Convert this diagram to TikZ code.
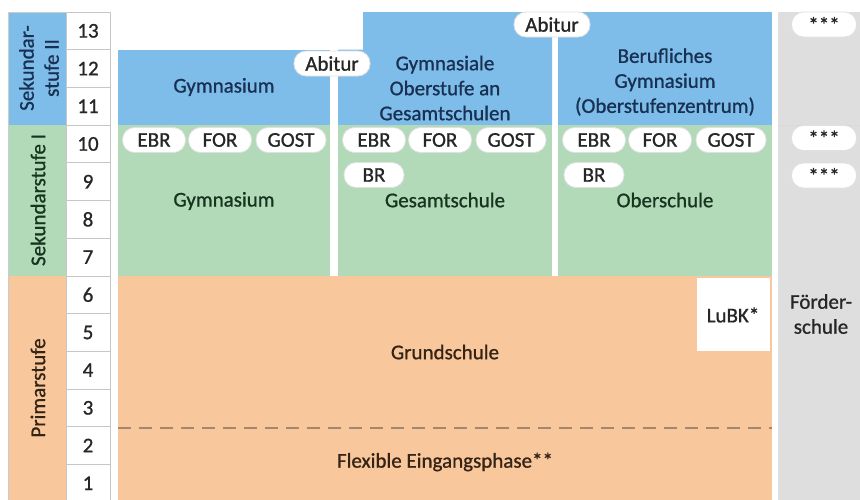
\documentclass[tikz,border=0pt]{standalone}
\usepackage{fontspec}
\setmainfont{Carlito}[FakeBold=0.9]
\usepackage{xcolor}
\usepackage{tikz}
\usetikzlibrary{positioning,calc}

\definecolor{sekblue}{RGB}{126,189,233}
\definecolor{sekgreen}{RGB}{178,218,185}
\definecolor{primorange}{RGB}{249,199,156}
\definecolor{foerdgray}{RGB}{222,222,222}
\definecolor{bluetext}{RGB}{24,48,82}
\definecolor{greentext}{RGB}{22,52,30}
\definecolor{orangetext}{RGB}{52,36,22}
\definecolor{dashbrown}{RGB}{165,135,112}

\begin{document}
\begin{tikzpicture}[x=0.5pt, y=-0.5pt,
    every node/.style={font=\fontsize{10.5}{12.5}\selectfont, inner sep=0pt},
    pill/.style={fill=white, draw=black!12, rounded corners=6pt, minimum height=12.5pt, text=black!85},
    gradecell/.style={draw=black!22, fill=white, minimum width=22pt, minimum height=18.85pt, text=black!85}]
    \useasboundingbox (0,0) rectangle (860,499);
    \clip (0,0) rectangle (860,499);

    % Stufen
    \fill[sekblue] (8,12) rectangle (66,125.1);
    \fill[sekgreen] (8,125.1) rectangle (66,275.9);
    \fill[primorange] (8,275.9) rectangle (66,502);
    \draw[black!20] (8,502) -- (8,12) -- (66,12);
    \node[rotate=90, align=center, text=bluetext] (sek2) at (39,68) {Sekundar-\\stufe II};
    \node[rotate=90, text=greentext] (sek1) at (38,200) {Sekundarstufe I};
    \node[rotate=90, text=orangetext] (prim) at (38,388) {Primarstufe};

    % Klassen
    \foreach \g in {1,...,13}
        \node[gradecell] (k\g) at (88, {12+(13.5-\g)*37.7}) {\g};

    % Gymnasium
    \fill[sekblue] (118,49.7) rectangle (330,125.1);
    \fill[sekgreen] (118,125.1) rectangle (330,275.9);
    % Gesamtschule
    \fill[sekblue] (338,49.7) -- (363,49.7) -- (363,12) -- (552,12) -- (552,125.1) -- (338,125.1) -- cycle;
    \fill[sekgreen] (338,125.1) rectangle (552,275.9);
    % Oberschule
    \fill[sekblue] (558,12) rectangle (772,125.1);
    \fill[sekgreen] (558,125.1) rectangle (772,275.9);
    % Primarstufe
    \fill[primorange] (118,275.9) rectangle (772,502);
    \fill[white] (697,278) rectangle (770,351.3);
    \draw[dashbrown, dash pattern=on 6.5pt off 4pt, line width=1pt] (118,427.5) -- (772,427.5);
    % Foerderschule
    \filldraw[fill=foerdgray, draw=black!12] (778,12) rectangle (862,502);
    \draw[black!15] (778,125.1) -- (860,125.1);

    \node[text=bluetext] (gym2) at (224,87) {Gymnasium};
    \node[align=center, text=bluetext] (gos) at (445,88) {Gymnasiale\\Oberstufe an\\Gesamtschulen};
    \node[align=center, text=bluetext] (bg) at (665,82) {Berufliches\\Gymnasium\\(Oberstufenzentrum)};
    \node[text=greentext] (gym1) at (224,201) {Gymnasium};
    \node[text=greentext] (ges) at (445,200) {Gesamtschule};
    \node[text=greentext] (obs) at (665,200) {Oberschule};
    \node[text=orangetext] (gs) at (445,352) {Grundschule};
    \node[text=orangetext] (flex) at (445,462) {Flexible Eingangsphase**};
    \node[text=black!85] (lubk) at (733,315) {LuBK*};
    \node[align=center, text=black!85] (foerd) at (821,314) {Förder-\\schule};

    % Abschluesse
    \foreach \x/\s in {118/a, 338/b, 558/c} {
        \node[pill, minimum width=31.5pt] (ebr\s) at (\x+36,140) {EBR};
        \node[pill, minimum width=31.5pt] (for\s) at (\x+102,140) {FOR};
        \node[pill, minimum width=35pt] (gost\s) at (\x+173,140) {GOST};
    }
    \foreach \x/\s in {338/b, 558/c}
        \node[pill, minimum width=30pt] (br\s) at (\x+36,175) {BR};
    \node[pill, minimum width=38pt] (abi1) at (332,63.5) {Abitur};
    \node[pill, minimum width=38pt] (abi2) at (552,24.5) {Abitur};
    \foreach \y/\s in {24.5/a, 138/b, 175.5/c}
        \node[pill, minimum width=32.5pt] (ast\s) at (824,\y) {***};
\end{tikzpicture}
\end{document}
